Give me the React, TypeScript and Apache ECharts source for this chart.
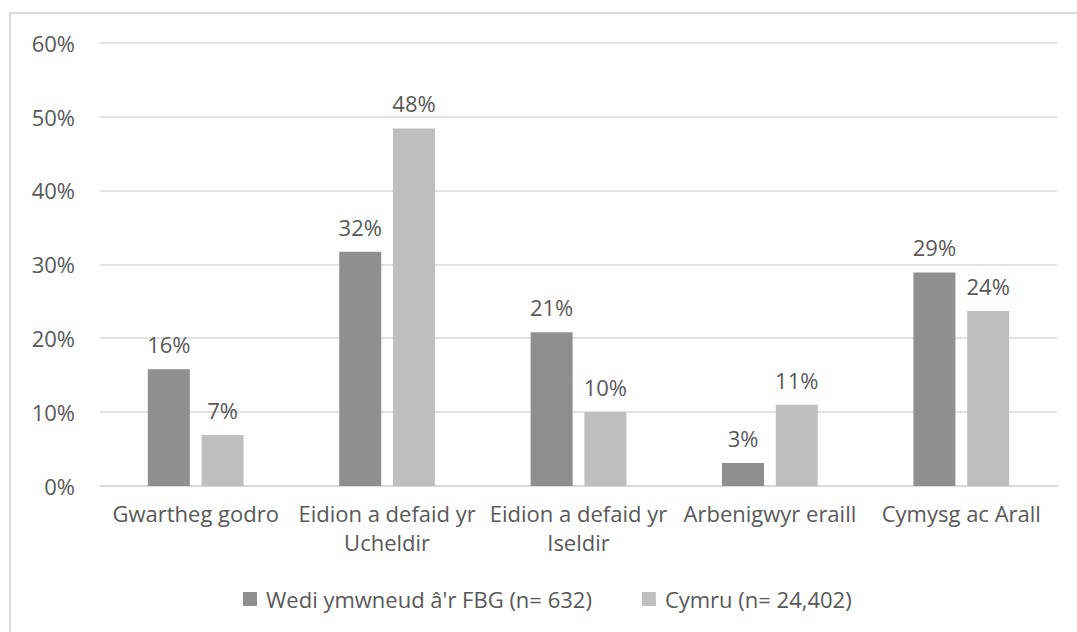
import React, { useEffect, useRef } from "react";
import * as echarts from "echarts";

const categories = [
  "Gwartheg godro",
  "Eidion a defaid yr Ucheldir",
  "Eidion a defaid yr Iseldir",
  "Arbenigwyr eraill",
  "Cymysg ac Arall",
];
const seriesNames = ["Wedi ymwneud â'r FBG (n= 632)", "Cymru (n= 24,402)"];
const fbgValues = [15.8, 31.7, 20.8, 3.1, 28.9];
const cymruValues = [6.9, 48.4, 10.0, 11.0, 23.7];
const yTicks = [0, 10, 20, 30, 40, 50, 60];

const FONT = "Open Sans";
const TEXT = "#595959";
const FS = 22;

export default function App() {
  const ref = useRef<HTMLDivElement>(null);
  useEffect(() => {
    if (!ref.current) return;
    const chart = echarts.init(ref.current, null, { renderer: "svg" });
    const label = {
      show: true,
      position: "top",
      distance: 14,
      color: TEXT,
      fontFamily: FONT,
      fontSize: FS,
      formatter: (p: any) => Math.round(p.value) + "%",
    };
    chart.setOption({
      animation: false,
      backgroundColor: "#ffffff",
      textStyle: { fontFamily: FONT, color: TEXT },
      graphic: [
        {
          type: "rect",
          shape: { x: 10, y: 13, width: 1200, height: 800 },
          style: { fill: "none", stroke: "#d9d9d9", lineWidth: 2 },
          silent: true,
          z: -1,
        },
      ],
      grid: { left: 100, right: 20, top: 42.7, bottom: 146, containLabel: false },
      xAxis: {
        type: "category",
        data: categories,
        axisLine: { lineStyle: { color: "#d9d9d9", width: 2 } },
        axisTick: { show: false },
        axisLabel: {
          interval: 0,
          color: TEXT,
          fontFamily: FONT,
          fontSize: FS,
          lineHeight: 29,
          margin: 12,
          formatter: (v: string) => v.replace(" yr ", " yr\n"),
        },
      },
      yAxis: {
        type: "value",
        min: yTicks[0],
        max: yTicks[yTicks.length - 1],
        interval: 10,
        axisLine: { show: false },
        axisTick: { show: false },
        splitLine: { lineStyle: { color: "#d9d9d9", width: 1.5 } },
        axisLabel: {
          color: TEXT,
          fontFamily: FONT,
          fontSize: FS,
          margin: 25,
          formatter: "{value}%",
        },
      },
      legend: {
        top: 583,
        left: 238,
        icon: "rect",
        itemWidth: 14,
        itemHeight: 14,
        itemGap: 50,
        textStyle: { color: TEXT, fontFamily: FONT, fontSize: FS, padding: [0, 0, 0, 4] },
        data: seriesNames,
      },
      series: [
        {
          name: seriesNames[0],
          type: "bar",
          data: fbgValues,
          barWidth: 42,
          barGap: "28%",
          itemStyle: { color: "#8f8f8f" },
          label,
        },
        {
          name: seriesNames[1],
          type: "bar",
          data: cymruValues,
          barWidth: 42,
          itemStyle: { color: "#bfbfbf" },
          label,
        },
      ],
    });
    return () => chart.dispose();
  }, []);
  return (
    <div
      ref={ref}
      style={{ position: "absolute", left: 0, top: 0, width: 1077, height: 632 }}
    />
  );
}
